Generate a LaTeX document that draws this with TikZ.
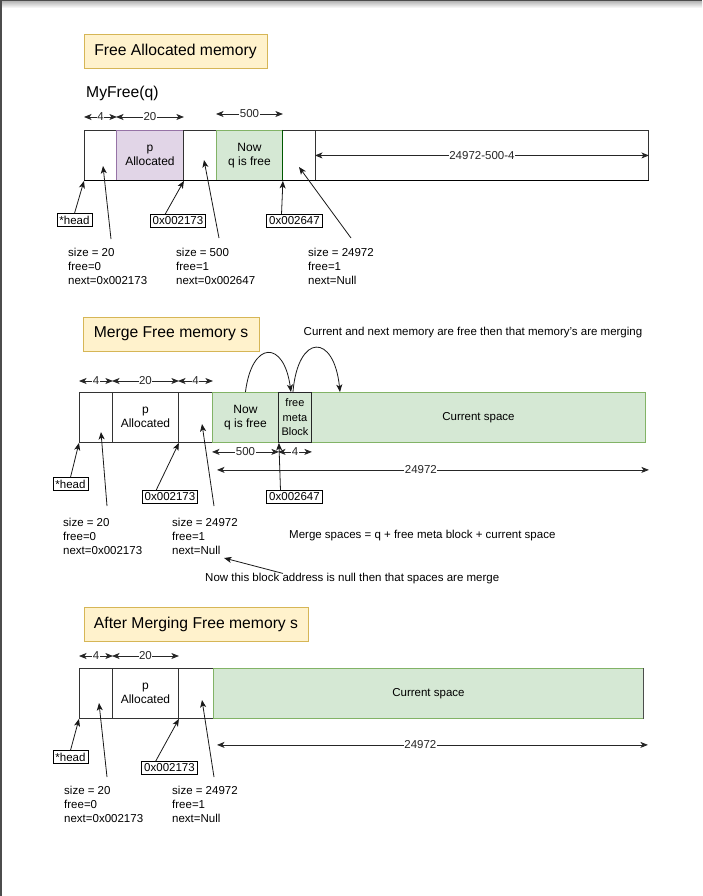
\documentclass[tikz,border=0pt]{standalone}
\usepackage{fontspec}
\setmainfont{Liberation Sans}
\usetikzlibrary{arrows.meta,positioning}

\definecolor{titlefill}{HTML}{FFF2CC}
\definecolor{titledraw}{HTML}{D6B656}
\definecolor{greenfill}{HTML}{D5E8D4}
\definecolor{greendraw}{HTML}{82B366}
\definecolor{purplefill}{HTML}{E1D5E7}
\definecolor{purpledraw}{HTML}{9673A6}

\newcommand\lblfont{\fontsize{11.5}{14}\selectfont}
\newcommand\headfont{\fontsize{15.7}{18}\selectfont}
\newcommand\blockfont{\fontsize{12}{14.5}\selectfont}
\newcommand\metafont{\fontsize{11}{14.5}\selectfont}
\newcommand\notefont{\fontsize{11.5}{13}\selectfont}

\tikzset{>={Stealth[length=7.5pt,width=6pt,inset=2pt]}}

\begin{document}
\begin{tikzpicture}[x=1pt,y=-1pt,
  every node/.style={font=\lblfont},
  titlebox/.style={draw=titledraw, fill=titlefill, line width=0.9pt, font=\headfont, inner sep=0, minimum height=34},
  block/.style={draw=black!80, line width=0.9pt, minimum height=50, inner sep=0, anchor=north west, align=center, font=\blockfont},
  freeblock/.style={block, draw=greendraw, fill=greenfill},
  usedblock/.style={block, draw=purpledraw, fill=purplefill},
  addr/.style={draw, line width=0.9pt, inner xsep=2.5pt, inner ysep=2pt},
  info/.style={align=left, anchor=north west, inner sep=0},
  dim/.style={<->, black!85, line width=0.8pt},
  dimlabel/.style={fill=white, inner sep=0.5pt},
  ptr/.style={->, black!90, line width=0.8pt}
]
\useasboundingbox (0,0) rectangle (702,896);

% page edge
\fill[black!70] (0,0) rectangle (702,2);
\shade[top color=black!25, bottom color=white] (0,2) rectangle (702,8);
\fill[black!70] (0,0) rectangle (2,896);

% ---------------- Free allocated memory ----------------
\node[titlebox, minimum width=183] (t1) at (175.5,51.5) {Free Allocated memory};
\node[anchor=west, font=\headfont, inner sep=0] (fn) at (86,93) {MyFree(q)};

\node[block, minimum width=32] (a1) at (84,130) {};
\node[usedblock, minimum width=67] (a2) at (116,130) {p\\Allocated};
\node[block, minimum width=33] (a3) at (183,130) {};
\node[freeblock, minimum width=66] (a4) at (216,130) {Now\\q is free};
\node[block, minimum width=33] (a5) at (282,130) {};
\node[block, minimum width=333] (a6) at (315,130) {};
\draw[green!35!black, line width=0.9pt] (a4.north east) -- (a4.south east);
\draw[line width=1pt] (a1.south west) -- (a6.south east);

% sizes
\draw[dim] ([yshift=13pt]a1.north west) -- node[dimlabel]{4} ([yshift=13pt]a1.north east);
\draw[dim] ([yshift=13pt]a2.north west) -- node[dimlabel]{20} ([yshift=13pt]a2.north east);
\draw[dim] ([yshift=16pt]a4.north west) -- node[dimlabel]{500} ([yshift=16pt]a4.north east);
\draw[dim] (a6.west) -- node[dimlabel]{24972-500-4} (a6.east);

% pointers and meta data
\node[addr] (h1) at (74.5,220) {*head};
\node[addr] (ad1) at (178,221) {0x002173};
\node[addr] (ad2) at (294.5,221) {0x002647};
\node[info] (i1) at (68,248) {size = 20\\free=0\\next=0x002173};
\node[info] (i2) at (176,248) {size = 500\\free=1\\next=0x002647};
\node[info] (i3) at (308,248) {size = 24972\\free=1\\next=Null};

\coordinate (i1tail) at (111,239); \coordinate (a1meta) at (103,166);
\coordinate (i2tail) at (219,238); \coordinate (a3meta) at (204,160);
\coordinate (i3tail) at (351,238); \coordinate (a5meta) at (299,167);

\draw[ptr] (h1.north) -- (a1.south west);
\draw[ptr] (i1tail) -- (a1meta);
\draw[ptr] ([xshift=-13pt]ad1.north) -- (a2.south east);
\draw[ptr] (i2tail) -- (a3meta);
\draw[ptr] ([xshift=-13pt]ad2.north) -- (a4.south east);
\draw[ptr] (i3tail) -- (a5meta);

% ---------------- Merge free memory ----------------
\node[titlebox, minimum width=176] (t2) at (171,334) {Merge Free memory s};
\node[font=\notefont, inner sep=0] (n1) at (473,333) {Current and next memory are free then that memory's are merging};

\node[block, minimum width=33] (b1) at (79,392) {};
\node[block, minimum width=66] (b2) at (112,392) {p\\Allocated};
\node[block, minimum width=34] (b3) at (178,392) {};
\node[freeblock, minimum width=66] (b4) at (212,392) {Now\\q is free};
\node[freeblock, minimum width=334, font=\lblfont] (b6) at (311,392) {Current space};
\node[freeblock, draw=black!85, minimum width=33, font=\metafont] (b5) at (278,392) {free\\meta\\Block};

\draw[ptr] (b4.north) .. controls (252,340) and (284,340) .. ([xshift=-4pt]b5.north);
\draw[ptr] ([xshift=-2pt]b5.north) .. controls (298,333) and (334,333) .. ([xshift=29pt]b6.north west);

% sizes
\draw[dim] ([yshift=11pt]b1.north west) -- node[dimlabel]{4} ([yshift=11pt]b1.north east);
\draw[dim] ([yshift=11pt]b2.north west) -- node[dimlabel]{20} ([yshift=11pt]b2.north east);
\draw[dim] ([yshift=11pt]b3.north west) -- node[dimlabel]{4} ([yshift=11pt]b3.north east);
\draw[dim] ([yshift=-9pt]b4.south west) -- node[dimlabel]{500} ([yshift=-9pt]b4.south east);
\draw[dim] ([yshift=-9pt]b5.south west) -- node[dimlabel]{4} ([yshift=-9pt]b5.south east);
\draw[dim] ([xshift=5pt,yshift=-27pt]b4.south west) -- node[dimlabel, pos=0.472]{24972} ([xshift=3pt,yshift=-27pt]b6.south east);

% pointers and meta data
\node[addr] (h2) at (70.5,484) {*head};
\node[addr] (ad3) at (170,497) {0x002173};
\node[addr] (ad4) at (294.5,497) {0x002647};
\node[info] (i4) at (63,518) {size = 20\\free=0\\next=0x002173};
\node[info] (i5) at (172,518) {size = 24972\\free=1\\next=Null};
\node[anchor=west, inner sep=0] (n2) at (289,536) {Merge spaces = q + free meta block + current space};
\node[anchor=west, inner sep=0] (n3) at (205,579) {Now this block address is null then that spaces are merge};

\coordinate (i4tail) at (107,506); \coordinate (b1meta) at (101,432);
\coordinate (i5tail) at (214,506); \coordinate (b3meta) at (202,424);
\coordinate (nulltip) at (224,558);

\draw[ptr] (h2.north) -- (b1.south west);
\draw[ptr] (i4tail) -- (b1meta);
\draw[ptr] ([xshift=-14pt]ad3.north) -- (b2.south east);
\draw[ptr] (i5tail) -- (b3meta);
\draw[ptr] ([xshift=-14pt]ad4.north) -- (b4.south east);
\draw[ptr] ([xshift=78pt]n3.north west) -- (nulltip);

% ---------------- After merging ----------------
\node[titlebox, minimum width=224] (t3) at (196,624) {After Merging Free memory s};

\node[block, minimum width=33] (c1) at (79,668) {};
\node[block, minimum width=66] (c2) at (112,668) {p\\Allocated};
\node[block, minimum width=35] (c3) at (178,668) {};
\node[freeblock, minimum width=430, font=\lblfont] (c4) at (213,668) {Current space};
\draw[black!70, line width=0.9pt] (c4.north east) -- (c4.south east);

% sizes
\draw[dim] ([yshift=12pt]c1.north west) -- node[dimlabel]{4} ([yshift=12pt]c1.north east);
\draw[dim] ([yshift=12pt]c2.north west) -- node[dimlabel]{20} ([yshift=12pt]c2.north east);
\draw[dim] ([xshift=4pt,yshift=-26pt]c4.south west) -- node[dimlabel, pos=0.472]{24972} ([xshift=4pt,yshift=-26pt]c4.south east);

% pointers and meta data
\node[addr] (h3) at (70.5,757) {*head};
\node[addr] (ad5) at (169.5,768) {0x002173};
\node[info] (i6) at (64,786) {size = 20\\free=0\\next=0x002173};
\node[info] (i7) at (172,786) {size = 24972\\free=1\\next=Null};

\coordinate (i6tail) at (107,777); \coordinate (c1meta) at (99,703);
\coordinate (i7tail) at (214,777); \coordinate (c3meta) at (202,700);

\draw[ptr] (h3.north) -- (c1.south west);
\draw[ptr] (i6tail) -- (c1meta);
\draw[ptr] ([xshift=-14pt]ad5.north) -- (c2.south east);
\draw[ptr] (i7tail) -- (c3meta);

\end{tikzpicture}
\end{document}
